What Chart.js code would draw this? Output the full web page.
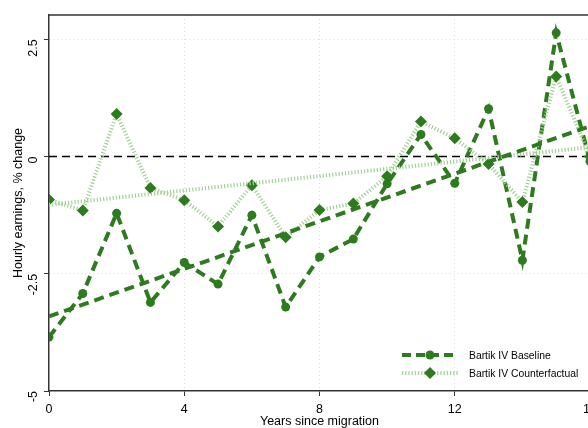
<!DOCTYPE html>
<html>
<head>
<meta charset="utf-8">
<script src="https://cdn.jsdelivr.net/npm/chart.js@4/dist/chart.umd.min.js"></script>
<style>
  html, body { margin: 0; padding: 0; background: #fff; overflow: hidden; }
  .chart-wrapper { position: relative; width: 620px; height: 429px; }
</style>
</head>
<body>
<div class="chart-wrapper"><canvas id="chart"></canvas></div>
<script>
// years since migration
const years = [0, 1, 2, 3, 4, 5, 6, 7, 8, 9, 10, 11, 12, 13, 14, 15, 16];

// point estimates, % change in hourly earnings
const baseline = [-3.85, -2.92, -1.21, -3.11, -2.26, -2.72, -1.25, -3.21, -2.14, -1.76, -0.58, 0.47, -0.57, 1.02, -2.21, 2.64, -0.1];
const counterfactual = [-0.92, -1.15, 0.91, -0.67, -0.93, -1.49, -0.61, -1.72, -1.14, -1.0, -0.42, 0.75, 0.39, -0.16, -0.97, 1.71, 0.0];

// linear trend end points (x = 0 and x = 16)
const fitYears = [0, 16];
const baselineFit = [-3.41, 0.65];
const counterfactualFit = [-1.03, 0.2];

const yTicks = [-5, -2.5, 0, 2.5];
const xTicks = [0, 4, 8, 12, 16];

const dark = "#2e7b1f";
const light = "#a3d096";
const font = "'Liberation Sans', Arial, sans-serif";

const toPoints = (xs, ys) => xs.map((x, i) => ({ x: x, y: ys[i] }));

// zero line + top frame
const framePlugin = {
  id: "frame",
  beforeDatasetsDraw(chart) {
    const { ctx, chartArea, scales } = chart;
    const y0 = scales.y.getPixelForValue(0);
    ctx.save();
    ctx.strokeStyle = "#000";
    ctx.lineWidth = 1.5;
    ctx.setLineDash([8, 5]);
    ctx.beginPath();
    ctx.moveTo(chartArea.left, y0);
    ctx.lineTo(chartArea.right, y0);
    ctx.stroke();
    ctx.setLineDash([]);
    ctx.strokeStyle = "#333";
    ctx.lineWidth = 1.5;
    ctx.beginPath();
    ctx.moveTo(chartArea.left, chartArea.top);
    ctx.lineTo(chartArea.right, chartArea.top);
    ctx.stroke();
    ctx.restore();
  },
};

// legend inside the plot, bottom right
const legendPlugin = {
  id: "insideLegend",
  afterDraw(chart) {
    const { ctx, chartArea } = chart;
    const items = [
      { label: "Bartik IV Baseline", color: dark, dash: [9, 5], marker: "circle" },
      { label: "Bartik IV Counterfactual", color: light, dash: [1.2, 2], marker: "diamond" },
    ];
    const x0 = 402, x1 = 458;
    items.forEach((it, i) => {
      const y = chartArea.bottom - 36 + i * 18;
      ctx.save();
      ctx.strokeStyle = it.color;
      ctx.lineWidth = 4;
      ctx.setLineDash(it.dash);
      ctx.beginPath();
      ctx.moveTo(x0, y);
      ctx.lineTo(x1, y);
      ctx.stroke();
      ctx.setLineDash([]);
      ctx.fillStyle = dark;
      const cx = (x0 + x1) / 2;
      ctx.beginPath();
      if (it.marker === "circle") {
        ctx.arc(cx, y, 4.5, 0, Math.PI * 2);
      } else {
        ctx.moveTo(cx, y - 6);
        ctx.lineTo(cx + 6, y);
        ctx.lineTo(cx, y + 6);
        ctx.lineTo(cx - 6, y);
        ctx.closePath();
      }
      ctx.fill();
      // the source font is a condensed grotesque, squeeze a little
      ctx.translate(469, y + 1);
      ctx.scale(0.9, 1);
      ctx.fillStyle = "#000";
      ctx.font = "11.5px " + font;
      ctx.textBaseline = "middle";
      ctx.textAlign = "left";
      ctx.fillText(it.label, 0, 0);
      ctx.restore();
    });
  },
};

new Chart(document.getElementById("chart").getContext("2d"), {
  type: "line",
  data: {
    datasets: [
      {
        label: "Bartik IV Baseline fit",
        data: toPoints(fitYears, baselineFit),
        borderColor: dark,
        borderWidth: 4,
        borderDash: [10, 6],
        pointRadius: 0,
        fill: false,
      },
      {
        label: "Bartik IV Counterfactual fit",
        data: toPoints(fitYears, counterfactualFit),
        borderColor: light,
        borderWidth: 4,
        borderDash: [1.2, 2],
        pointRadius: 0,
        fill: false,
      },
      {
        label: "Bartik IV Counterfactual",
        data: toPoints(years, counterfactual),
        borderColor: light,
        borderWidth: 4,
        borderDash: [1.2, 2],
        pointStyle: "rectRot",
        pointRadius: 6,
        pointBackgroundColor: dark,
        pointBorderColor: dark,
        pointBorderWidth: 0,
        fill: false,
      },
      {
        label: "Bartik IV Baseline",
        data: toPoints(years, baseline),
        borderColor: dark,
        borderWidth: 4,
        borderDash: [10, 6],
        pointStyle: "circle",
        pointRadius: 4.5,
        pointBackgroundColor: dark,
        pointBorderColor: dark,
        pointBorderWidth: 0,
        fill: false,
      },
    ],
  },
  options: {
    responsive: true,
    maintainAspectRatio: false,
    animation: false,
    layout: { padding: { top: 15, right: 30, left: 11, bottom: 0 } },
    plugins: {
      legend: { display: false },
      tooltip: { enabled: false },
    },
    scales: {
      x: {
        type: "linear",
        min: 0,
        max: 16,
        afterBuildTicks: (scale) => { scale.ticks = xTicks.map(v => ({ value: v })); },
        afterFit: (scale) => { scale.height = 38; },
        border: { display: true, color: "#333", width: 1.5, dash: [1, 3] },
        grid: {
          color: (c) => (c.tick && c.tick.value === 0 ? "rgba(0,0,0,0)" : "#d9dcd9"),
          lineWidth: 1,
          tickColor: "#333",
          tickLength: 5,
          tickBorderDash: [],
          drawTicks: true,
        },
        ticks: {
          color: "#000",
          font: { family: font, size: 12.5 },
          padding: 6,
          maxRotation: 0,
        },
        title: {
          display: true,
          text: "Years since migration",
          color: "#000",
          font: { family: font, size: 12.5 },
          padding: { top: 0, bottom: 0 },
        },
      },
      y: {
        type: "linear",
        min: -5,
        max: 3.02,
        afterBuildTicks: (scale) => { scale.ticks = yTicks.map(v => ({ value: v })); },
        afterFit: (scale) => {
          scale.width = 38;
          scale.paddingTop = 0;
          scale.paddingBottom = 0;
        },
        border: { display: true, color: "#333", width: 1.5, dash: [1, 3] },
        grid: {
          color: (c) => (c.tick && (c.tick.value === 0 || c.tick.value === -5) ? "rgba(0,0,0,0)" : "#d9dcd9"),
          lineWidth: 1,
          tickColor: "#333",
          tickLength: 5,
          tickBorderDash: [],
          drawTicks: true,
        },
        ticks: {
          color: "#000",
          font: { family: font, size: 12.5 },
          padding: 10,
          minRotation: 90,
          maxRotation: 90,
          callback: (v) => String(v),
        },
        title: {
          display: true,
          text: "Hourly earnings, % change",
          color: "#000",
          font: { family: font, size: 12.5 },
          padding: { top: 0, bottom: 0 },
        },
      },
    },
  },
  plugins: [framePlugin, legendPlugin],
});
</script>
</body>
</html>
